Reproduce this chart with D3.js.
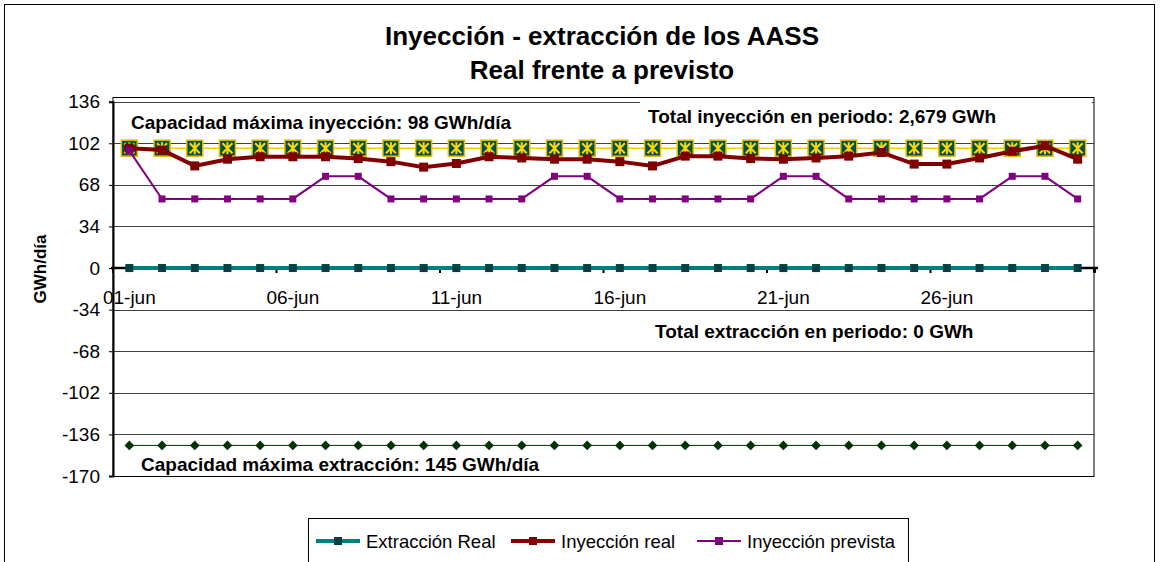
<!DOCTYPE html>
<html>
<head>
<meta charset="utf-8">
<script src="https://cdn.jsdelivr.net/npm/d3@7"></script>
<style>
  body { margin: 0; background: #fff; }
  svg { font-family: "Liberation Sans", Arial, sans-serif; }
</style>
</head>
<body>
<div class="canvas"></div>
<script>
const days = ["01-jun","02-jun","03-jun","04-jun","05-jun","06-jun","07-jun","08-jun","09-jun","10-jun",
  "11-jun","12-jun","13-jun","14-jun","15-jun","16-jun","17-jun","18-jun","19-jun","20-jun",
  "21-jun","22-jun","23-jun","24-jun","25-jun","26-jun","27-jun","28-jun","29-jun","30-jun"];
const tickLabels = ["01-jun","06-jun","11-jun","16-jun","21-jun","26-jun"];
const yTicks = [136, 102, 68, 34, 0, -34, -68, -102, -136, -170];

const extraccionReal = [0,0,0,0,0,0,0,0,0,0, 0,0,0,0,0,0,0,0,0,0, 0,0,0,0,0,0,0,0,0,0];
const inyeccionReal = [98,96.5,83.5,89,91,91,91,89.5,87,82.5, 85.5,91,90,89,89,87,83.5,91.5,91.5,89.5,
  89,90,91.5,94.5,85,85,90,95.5,100,89];
const inyeccionPrevista = [96,56.5,56.5,56.5,56.5,56.5,75,75,56.5,56.5, 56.5,56.5,56.5,75,75,56.5,56.5,56.5,56.5,56.5,
  75,75,56.5,56.5,56.5,56.5,56.5,75,75,56.5];
const capInyeccion = [98,98,98,98,98,98,98,98,98,98, 98,98,98,98,98,98,98,98,98,98, 98,98,98,98,98,98,98,98,98,98];
const capExtraccion = [-145,-145,-145,-145,-145,-145,-145,-145,-145,-145, -145,-145,-145,-145,-145,-145,-145,-145,-145,-145,
  -145,-145,-145,-145,-145,-145,-145,-145,-145,-145];

const dims = { width: 1160, height: 562 };
const plot = { left: 113, right: 1094, top: 97, bottom: 476 };

const svg = d3.select(".canvas").append("svg")
  .attr("width", dims.width)
  .attr("height", dims.height);

// chart border
svg.append("rect")
  .attr("x", 4.5).attr("y", 4.5)
  .attr("width", 1150).attr("height", 570)
  .attr("fill", "#fff").attr("stroke", "#000").attr("stroke-width", 1);

const x = d3.scaleBand().domain(days).range([plot.left, plot.right]);
const y = d3.scaleLinear().domain([-170, 136]).range([476, 101.7]);
const cx = (d) => x(d) + x.bandwidth() / 2;

// titles
svg.append("text").attr("x", 602).attr("y", 45).attr("text-anchor", "middle")
  .attr("font-size", 26).attr("font-weight", "bold").text("Inyección - extracción de los AASS");
svg.append("text").attr("x", 602).attr("y", 79).attr("text-anchor", "middle")
  .attr("font-size", 26).attr("font-weight", "bold").text("Real frente a previsto");

// gridlines
svg.append("g")
  .selectAll("line")
  .data(yTicks.filter((t) => t !== 0))
  .join("line")
  .attr("x1", plot.left).attr("x2", plot.right)
  .attr("y1", (d) => Math.round(y(d)) + 0.5).attr("y2", (d) => Math.round(y(d)) + 0.5)
  .attr("stroke", "#404040").attr("stroke-width", 1);

// plot frame
svg.append("rect")
  .attr("x", plot.left).attr("y", plot.top + 0.5)
  .attr("width", plot.right - plot.left).attr("height", plot.bottom - plot.top)
  .attr("fill", "none").attr("stroke", "#000").attr("stroke-width", 1);

// y axis
const yAxis = svg.append("g")
  .attr("transform", `translate(${plot.left},0)`)
  .call(d3.axisLeft(y).tickValues(yTicks).tickSize(4).tickPadding(9).tickFormat((d) => String(d)));
yAxis.select(".domain").attr("stroke-width", 2);
yAxis.selectAll("text").attr("font-size", 19).attr("font-family", "Liberation Sans, Arial");

svg.append("text")
  .attr("transform", "translate(46,269) rotate(-90)")
  .attr("text-anchor", "middle").attr("font-size", 17).attr("font-weight", "bold")
  .text("GWh/día");

// annotation boxes
svg.append("rect").attr("x", 640).attr("y", 98).attr("width", 452).attr("height", 38).attr("fill", "#fff");
svg.append("line").attr("x1", 640).attr("x2", plot.right).attr("y1", 97.5).attr("y2", 97.5).attr("stroke", "#000");

const notes = [
  { text: "Capacidad máxima inyección: 98 GWh/día", x: 131, y: 129 },
  { text: "Total inyección en periodo: 2,679 GWh", x: 648, y: 123 },
  { text: "Total extracción en periodo: 0 GWh", x: 655, y: 338 },
  { text: "Capacidad máxima extracción: 145 GWh/día", x: 141, y: 471 }
];
svg.append("g").selectAll("text").data(notes).join("text")
  .attr("x", (d) => d.x).attr("y", (d) => d.y)
  .attr("font-size", 19).attr("font-weight", "bold")
  .text((d) => d.text);

// x axis at zero
const xAxis = svg.append("g").attr("transform", `translate(0,${y(0)})`);
xAxis.append("line").attr("x1", plot.left - 2).attr("x2", plot.right + 4)
  .attr("stroke", "#000").attr("stroke-width", 2.5);
const tickPos = d3.range(0, days.length + 1, 5).map((i) => plot.left + i * x.step());
xAxis.selectAll(".tk").data(tickPos).join("line").attr("class", "tk")
  .attr("x1", (d) => d).attr("x2", (d) => d).attr("y1", 0).attr("y2", 5)
  .attr("stroke", "#000").attr("stroke-width", 2);
xAxis.append("line").attr("x1", plot.right + 1).attr("x2", plot.right + 1).attr("y1", 0).attr("y2", 5)
  .attr("stroke", "#000").attr("stroke-width", 2);
xAxis.selectAll(".lbl").data(tickLabels).join("text").attr("class", "lbl")
  .attr("x", (d) => cx(d)).attr("y", 36)
  .attr("text-anchor", "middle").attr("font-size", 19).text((d) => d);

const line = (vals) => d3.line().x((d, i) => cx(days[i])).y((d) => y(d))(vals);

// Extracción real
svg.append("path").attr("d", line(extraccionReal)).attr("fill", "none")
  .attr("stroke", "#008080").attr("stroke-width", 4);
svg.append("g").selectAll("rect").data(extraccionReal).join("rect")
  .attr("x", (d, i) => cx(days[i]) - 4).attr("y", (d) => y(d) - 4)
  .attr("width", 8).attr("height", 8).attr("fill", "#004040");

// capacidad extracción
svg.append("path").attr("d", line(capExtraccion)).attr("fill", "none")
  .attr("stroke", "#003300").attr("stroke-width", 1);
svg.append("g").selectAll("path").data(capExtraccion).join("path")
  .attr("d", d3.symbol(d3.symbolDiamond2, 60))
  .attr("transform", (d, i) => `translate(${cx(days[i])},${y(d)})`)
  .attr("fill", "#003300");

// capacidad inyección
svg.append("path").attr("d", line(capInyeccion)).attr("fill", "none")
  .attr("stroke", "#FFCC00").attr("stroke-width", 1.5);
const capMarks = svg.append("g").selectAll("g").data(capInyeccion).join("g")
  .attr("transform", (d, i) => `translate(${cx(days[i])},${y(d)})`);
capMarks.append("rect").attr("x", -8).attr("y", -8).attr("width", 16).attr("height", 16)
  .attr("fill", "#00504a").attr("stroke", "#E6B800").attr("stroke-width", 1.5);
capMarks.append("path").attr("d", "M0,-6L0,6M-5,-5L5,5M5,-5L-5,5")
  .attr("stroke", "#FFD700").attr("stroke-width", 2);

// Inyección real
svg.append("path").attr("d", line(inyeccionReal)).attr("fill", "none")
  .attr("stroke", "#800000").attr("stroke-width", 4);
svg.append("g").selectAll("rect").data(inyeccionReal).join("rect")
  .attr("x", (d, i) => cx(days[i]) - 4.5).attr("y", (d) => y(d) - 4.5)
  .attr("width", 9).attr("height", 9).attr("fill", "#800000");

// Inyección prevista
svg.append("path").attr("d", line(inyeccionPrevista)).attr("fill", "none")
  .attr("stroke", "#800080").attr("stroke-width", 2);
svg.append("g").selectAll("rect").data(inyeccionPrevista).join("rect")
  .attr("x", (d, i) => cx(days[i]) - 3.5).attr("y", (d) => y(d) - 3.5)
  .attr("width", 7).attr("height", 7).attr("fill", "#800080");

//legend
svg.append("rect").attr("x", 308.5).attr("y", 518.5).attr("width", 600).attr("height", 60)
  .attr("fill", "#fff").attr("stroke", "#000");
const legendItems = [
  { name: "Extracción Real", color: "#008080", mark: "#004040", w: 4, x: 316 },
  { name: "Inyección real", color: "#800000", mark: "#800000", w: 4, x: 511 },
  { name: "Inyección prevista", color: "#800080", mark: "#800080", w: 2, x: 697 }
];
const lg = svg.append("g").selectAll("g").data(legendItems).join("g")
  .attr("transform", (d) => `translate(${d.x},541)`);
lg.append("line").attr("x1", 0).attr("x2", 44)
  .attr("stroke", (d) => d.color).attr("stroke-width", (d) => d.w);
lg.append("rect").attr("x", 18).attr("y", -4).attr("width", 8).attr("height", 8)
  .attr("fill", (d) => d.mark);
lg.append("text").attr("x", 50).attr("y", 7).attr("font-size", 18.5).text((d) => d.name);
</script>
</body>
</html>
